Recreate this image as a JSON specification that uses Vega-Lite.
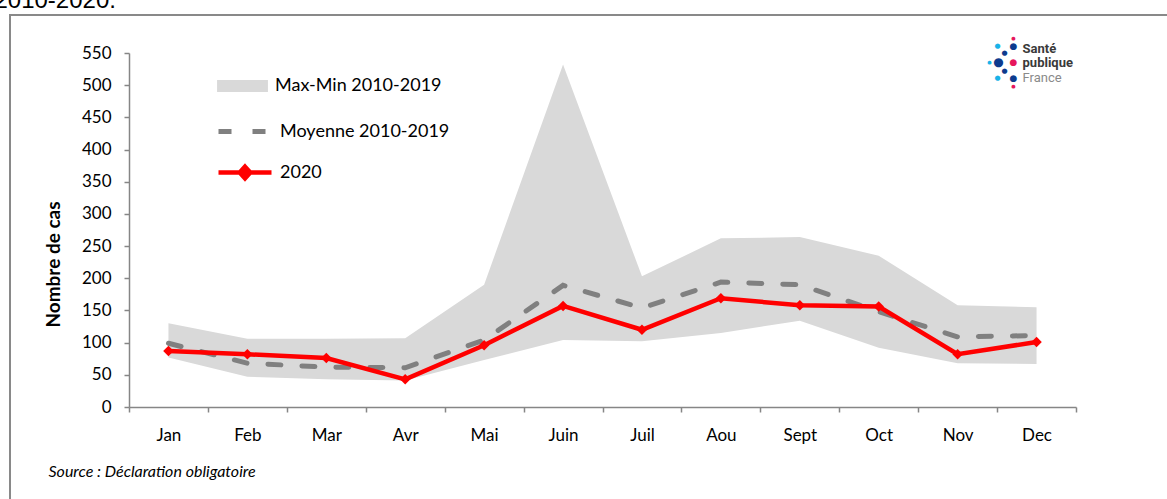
{
  "$schema": "https://vega.github.io/schema/vega-lite/v6.json",
  "width": 1160,
  "height": 487,
  "autosize": {"type": "none"},
  "padding": {"left": 10, "top": 15, "right": 0, "bottom": 0},
  "data": {"values": [
    {"mois": "Jan", "max": 130, "min": 77, "moyenne": 99, "v2020": 87},
    {"mois": "Feb", "max": 106, "min": 47, "moyenne": 68, "v2020": 82},
    {"mois": "Mar", "max": 106, "min": 43, "moyenne": 62, "v2020": 76},
    {"mois": "Avr", "max": 107, "min": 41, "moyenne": 61, "v2020": 43},
    {"mois": "Mai", "max": 190, "min": 73, "moyenne": 104, "v2020": 96},
    {"mois": "Juin", "max": 532, "min": 104, "moyenne": 189, "v2020": 157},
    {"mois": "Juil", "max": 203, "min": 102, "moyenne": 154, "v2020": 120},
    {"mois": "Aou", "max": 262, "min": 115, "moyenne": 194, "v2020": 169},
    {"mois": "Sept", "max": 264, "min": 134, "moyenne": 190, "v2020": 158},
    {"mois": "Oct", "max": 235, "min": 92, "moyenne": 148, "v2020": 156},
    {"mois": "Nov", "max": 158, "min": 68, "moyenne": 109, "v2020": 82},
    {"mois": "Dec", "max": 155, "min": 67, "moyenne": 111, "v2020": 101}
  ]},
  "encoding": {
    "x": {
      "field": "mois", "type": "nominal", "sort": null,
      "scale": {"type": "band", "range": [119, 1066], "paddingInner": 0, "paddingOuter": 0},
      "axis": {
        "orient": "bottom", "offset": -95, "tickBand": "extent", "labelAngle": 0,
        "labelFont": "Lato", "labelFontSize": 17, "labelColor": "#000000", "labelPadding": 15,
        "tickSize": 5, "tickColor": "#868686", "tickWidth": 1.5, "domainColor": "#868686", "domainWidth": 1.5,
        "grid": false,
        "title": "Source : Déclaration obligatoire", "titleFont": "Lato", "titleFontSize": 16, "titleFontStyle": "italic", "titleFontWeight": "normal", "titleColor": "#000000",
        "titleAnchor": "start", "titleAlign": "left", "titleBaseline": "alphabetic", "titleX": 38, "titleY": 69
      }
    }
  },
  "layer": [
    {
      "mark": {"type": "area", "opacity": 1},
      "encoding": {
        "y": {
          "field": "max", "type": "quantitative",
          "scale": {"domain": [0, 550], "range": [392, 38], "nice": false, "zero": true},
          "axis": {
            "orient": "left", "offset": -119, "values": [0, 50, 100, 150, 200, 250, 300, 350, 400, 450, 500, 550],
            "labelFont": "Lato", "labelFontSize": 17, "labelColor": "#000000", "labelPadding": 13,
            "tickSize": 5, "tickColor": "#868686", "tickWidth": 1.5, "domainColor": "#868686", "domainWidth": 1.5,
            "grid": false,
            "title": "Nombre de cas", "titleFont": "Lato", "titleFontSize": 19, "titleFontWeight": "bold", "titleColor": "#000000",
            "titleAngle": -90, "titleX": -76, "titleY": 249, "titleAlign": "center", "titleBaseline": "middle"
          }
        },
        "y2": {"field": "min"},
        "fill": {
          "datum": "Max-Min 2010-2019",
          "scale": {"range": ["#d9d9d9"]},
          "legend": {
            "title": null, "orient": "none", "legendX": 206, "legendY": 44.5, "padding": 0,
            "symbolType": "M-0.96,-0.23H0.96V0.23H-0.96Z", "symbolSize": 2809, "symbolStrokeWidth": 0, "symbolOpacity": 1,
            "labelFont": "Lato", "labelFontSize": 18, "labelColor": "#000000", "labelOffset": 6, "labelLimit": 400
          }
        }
      }
    },
    {
      "mark": {"type": "line", "color": "#808080", "strokeWidth": 5, "strokeCap": "round"},
      "encoding": {
        "y": {"field": "moyenne", "type": "quantitative"},
        "strokeDash": {
          "datum": "Moyenne 2010-2019",
          "scale": {"range": [[13, 21]]},
          "legend": {
            "title": null, "orient": "none", "legendX": 206, "legendY": 87.5, "padding": 0,
            "symbolType": "stroke", "symbolSize": 2809, "symbolStrokeWidth": 5, "symbolStrokeColor": "#808080",
            "labelFont": "Lato", "labelFontSize": 18, "labelColor": "#000000", "labelOffset": 6, "labelLimit": 400
          }
        }
      }
    },
    {
      "mark": {"type": "line", "strokeWidth": 4.5, "point": {"filled": true, "shape": "diamond", "size": 110}},
      "encoding": {
        "y": {"field": "v2020", "type": "quantitative"},
        "color": {
          "datum": "2020",
          "scale": {"range": ["#ff0000"]},
          "legend": {
            "title": null, "orient": "none", "legendX": 206, "legendY": 128.5, "padding": 0,
            "symbolType": "M-1,0H1M0,-0.22L0.2,0L0,0.22L-0.2,0Z", "symbolSize": 2809, "symbolStrokeWidth": 4.5,
            "symbolStrokeColor": "#ff0000", "symbolFillColor": "#ff0000",
            "labelFont": "Lato", "labelFontSize": 18, "labelColor": "#000000", "labelOffset": 6, "labelLimit": 400
          }
        }
      }
    },
    {
      "data": {"values": [{}]},
      "layer": [
        {
          "mark": {"type": "text", "text": "2010-2020.", "font": "Liberation Sans", "fontSize": 24, "color": "#000000", "align": "left", "baseline": "alphabetic", "dx": -174, "clip": false},
          "encoding": {"x": {"datum": "Jan"}, "y": {"datum": 620, "type": "quantitative"}}
        },
        {
          "mark": {"type": "text", "text": "Santé", "font": "Roboto", "fontWeight": "bold", "fontSize": 13, "color": "#3a3a3a", "align": "left", "baseline": "middle", "dx": -14, "dy": -4},
          "encoding": {"x": {"datum": "Dec"}, "y": {"datum": 550, "type": "quantitative"}}
        },
        {
          "mark": {"type": "text", "text": "publique", "font": "Roboto", "fontWeight": "bold", "fontSize": 13, "color": "#3a3a3a", "align": "left", "baseline": "middle", "dx": -14, "dy": 10},
          "encoding": {"x": {"datum": "Dec"}, "y": {"datum": 550, "type": "quantitative"}}
        },
        {
          "mark": {"type": "text", "text": "France", "font": "Roboto", "fontWeight": "normal", "fontSize": 13, "color": "#8a8a8a", "align": "left", "baseline": "middle", "dx": -14, "dy": 25},
          "encoding": {"x": {"datum": "Dec"}, "y": {"datum": 550, "type": "quantitative"}}
        },
        {
          "mark": {"type": "text", "text": "●", "font": "DejaVu Sans", "fontSize": 12, "color": "#0d3b8e", "align": "center", "baseline": "middle", "dx": -38, "dy": 9},
          "encoding": {"x": {"datum": "Dec"}, "y": {"datum": 550, "type": "quantitative"}}
        },
        {
          "mark": {"type": "text", "text": "●", "font": "DejaVu Sans", "fontSize": 9, "color": "#e6175c", "align": "center", "baseline": "middle", "dx": -23, "dy": 9},
          "encoding": {"x": {"datum": "Dec"}, "y": {"datum": 550, "type": "quantitative"}}
        },
        {
          "mark": {"type": "text", "text": "●", "font": "DejaVu Sans", "fontSize": 9, "color": "#0d3b8e", "align": "center", "baseline": "middle", "dx": -23, "dy": -7},
          "encoding": {"x": {"datum": "Dec"}, "y": {"datum": 550, "type": "quantitative"}}
        },
        {
          "mark": {"type": "text", "text": "●", "font": "DejaVu Sans", "fontSize": 9, "color": "#0d3b8e", "align": "center", "baseline": "middle", "dx": -23, "dy": 25},
          "encoding": {"x": {"datum": "Dec"}, "y": {"datum": 550, "type": "quantitative"}}
        },
        {
          "mark": {"type": "text", "text": "●", "font": "DejaVu Sans", "fontSize": 7, "color": "#0d3b8e", "align": "center", "baseline": "middle", "dx": -32, "dy": 0},
          "encoding": {"x": {"datum": "Dec"}, "y": {"datum": 550, "type": "quantitative"}}
        },
        {
          "mark": {"type": "text", "text": "●", "font": "DejaVu Sans", "fontSize": 7, "color": "#0d3b8e", "align": "center", "baseline": "middle", "dx": -32, "dy": 18},
          "encoding": {"x": {"datum": "Dec"}, "y": {"datum": 550, "type": "quantitative"}}
        },
        {
          "mark": {"type": "text", "text": "●", "font": "DejaVu Sans", "fontSize": 7, "color": "#19b3e8", "align": "center", "baseline": "middle", "dx": -39, "dy": -7},
          "encoding": {"x": {"datum": "Dec"}, "y": {"datum": 550, "type": "quantitative"}}
        },
        {
          "mark": {"type": "text", "text": "●", "font": "DejaVu Sans", "fontSize": 7, "color": "#19b3e8", "align": "center", "baseline": "middle", "dx": -39, "dy": 25},
          "encoding": {"x": {"datum": "Dec"}, "y": {"datum": 550, "type": "quantitative"}}
        },
        {
          "mark": {"type": "text", "text": "●", "font": "DejaVu Sans", "fontSize": 5, "color": "#19b3e8", "align": "center", "baseline": "middle", "dx": -47, "dy": 9},
          "encoding": {"x": {"datum": "Dec"}, "y": {"datum": 550, "type": "quantitative"}}
        },
        {
          "mark": {"type": "text", "text": "●", "font": "DejaVu Sans", "fontSize": 5, "color": "#e6175c", "align": "center", "baseline": "middle", "dx": -23, "dy": -15},
          "encoding": {"x": {"datum": "Dec"}, "y": {"datum": 550, "type": "quantitative"}}
        },
        {
          "mark": {"type": "text", "text": "●", "font": "DejaVu Sans", "fontSize": 5, "color": "#e6175c", "align": "center", "baseline": "middle", "dx": -23, "dy": 33},
          "encoding": {"x": {"datum": "Dec"}, "y": {"datum": 550, "type": "quantitative"}}
        }
      ]
    }
  ],
  "config": {
    "font": "Lato",
    "background": "#ffffff",
    "view": {"stroke": "#898989", "strokeWidth": 2, "fill": null}
  }
}
